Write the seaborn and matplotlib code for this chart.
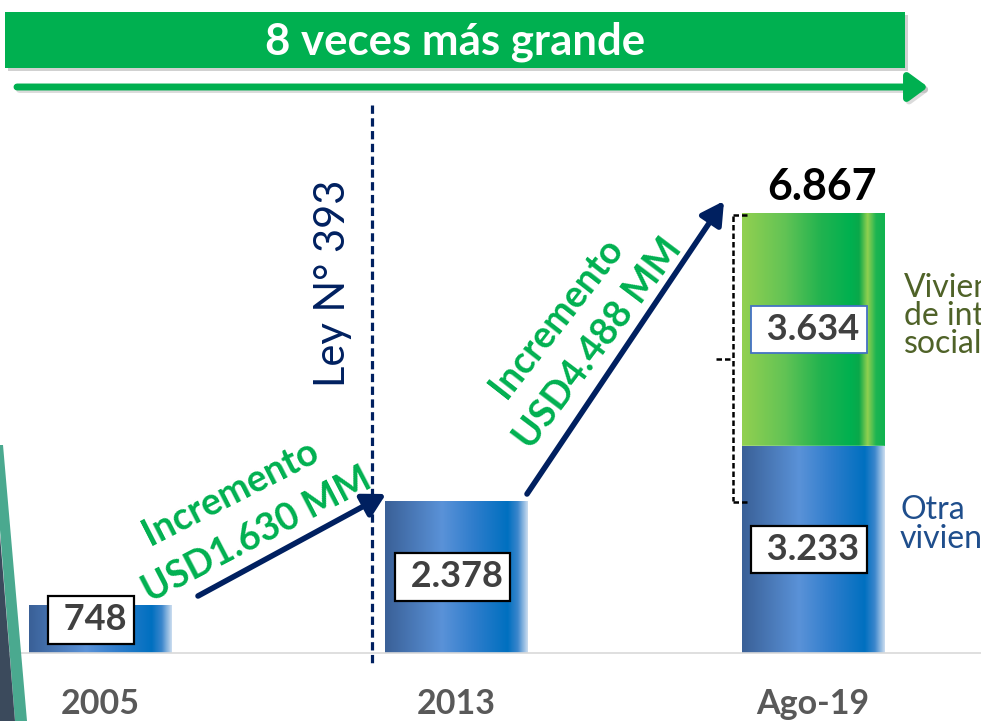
import numpy as np
import pandas as pd
import matplotlib
matplotlib.use("Agg")
import matplotlib.pyplot as plt
import seaborn as sns
from matplotlib.colors import LinearSegmentedColormap
from matplotlib.patches import Rectangle, FancyArrowPatch, Polygon
from matplotlib.lines import Line2D

# ---- data (millones de USD) ----
periods = ["2005", "2013", "Ago-19"]
otra_vivienda = [748, 2378, 3233]
vivienda_social = [0, 0, 3634]
increments = [1630, 4488]
headline = "8 veces más grande"
law_label = "Ley N° 393"
social_label = ["Vivienda", "de interés", "social"]
otra_label = ["Otra", "vivienda"]

totals = [a + b for a, b in zip(otra_vivienda, vivienda_social)]


def fmt(v):
    return f"{v:,}".replace(",", ".")


# ---- style ----
sns.set_theme(style="white")
plt.rcParams["font.family"] = ["Lato", "DejaVu Sans"]

W, H = 981, 721
fig = plt.figure(figsize=(W / 100, H / 100), dpi=100)
fig.patch.set_facecolor("white")


def P(x, y):
    """pixel position (from top-left) -> figure fraction"""
    return (x / W, 1 - y / H)


BASE = 653  # pixel row of the category axis
ax = fig.add_axes([0, (H - BASE) / H, 1, BASE / H])

GREEN = "#00b050"
BLUE = "#2e75b6"
NAVY = "#002060"

df = pd.DataFrame({"periodo": periods, "total": totals, "otra": otra_vivienda})

n0 = len(ax.patches)
sns.barplot(data=df, x="periodo", y="total", color=GREEN, width=0.4,
            saturation=1, ax=ax)
green_bars = ax.patches[n0:]
n1 = len(ax.patches)
sns.barplot(data=df, x="periodo", y="otra", color=BLUE, width=0.4,
            saturation=1, ax=ax)
blue_bars = ax.patches[n1:]

blue_cmap = LinearSegmentedColormap.from_list("barblue", [
    (0.00, "#3a6097"), (0.40, "#5a92d8"), (0.62, "#2f7dcc"),
    (0.86, "#0070c0"), (0.93, "#3b86cc"), (1.00, "#c9dcef")])
green_cmap = LinearSegmentedColormap.from_list("bargreen", [
    (0.00, "#92d050"), (0.30, "#62c355"), (0.55, "#22b34f"),
    (0.76, "#00b050"), (0.82, "#0aa84a"), (0.88, "#92d050"),
    (0.94, "#1cb452"), (1.00, "#0fb34f")])

grad = np.linspace(0, 1, 256).reshape(1, -1)


def fill_gradient(patch, cmap, z):
    patch.set_zorder(z)
    x0, y0 = patch.get_x(), patch.get_y()
    w, h = patch.get_width(), patch.get_height()
    if h <= 0:
        return
    im = ax.imshow(grad, cmap=cmap, extent=[x0, x0 + w, y0, y0 + h],
                   aspect="auto", zorder=z + 0.05, interpolation="bilinear")
    im.set_clip_path(patch)


for p in green_bars:
    fill_gradient(p, green_cmap, 1.0)
for p in blue_bars:
    fill_gradient(p, blue_cmap, 1.2)

ax.set_xlim(-0.2805, 2.471)
ax.set_ylim(0, 10190)
ax.set_xlabel("")
ax.set_ylabel("")
ax.set_yticks([])
for s in ["top", "right", "left"]:
    ax.spines[s].set_visible(False)
ax.spines["bottom"].set_color("#d9d9d9")
ax.spines["bottom"].set_linewidth(1.2)
ax.tick_params(axis="x", length=0, pad=25, labelsize=24.5, labelcolor="#595959")
for lbl in ax.get_xticklabels():
    lbl.set_fontweight("bold")

# ---- value boxes ----
LABEL_FLOOR = 515
VAL_FS = 26
for i, (o, s) in enumerate(zip(otra_vivienda, vivienda_social)):
    y = max(o / 2, LABEL_FLOOR)
    dx = -0.025 if o < LABEL_FLOOR * 2 else -0.012
    ax.text(i + dx, y, " " + fmt(o), ha="center", va="center", fontsize=VAL_FS,
            fontweight="bold", color="#404040", zorder=5,
            bbox=dict(boxstyle="square,pad=0.2", fc="white", ec="black", lw=1.6))
    if s > 0:
        ax.text(i + dx, o + s / 2, " " + fmt(s), ha="center", va="center",
                fontsize=VAL_FS, fontweight="bold", color="#404040", zorder=5,
                bbox=dict(boxstyle="square,pad=0.2", fc="white", ec="#4472c4", lw=1.3))

ax.annotate(fmt(totals[-1]), xy=(2, totals[-1]), xytext=(6.5, 9.5),
            textcoords="offset points", ha="center", va="baseline",
            fontsize=31, fontweight="bold", color="black", zorder=5)

# ---- header banner with arrow ----
fig.add_artist(Rectangle(P(8, 71), 900 / W, 56 / H, transform=fig.transFigure,
                         fc="#9a9a9a", ec="none", alpha=0.45, zorder=2))
fig.add_artist(Rectangle(P(5, 68), 900 / W, 56 / H, transform=fig.transFigure,
                         fc=GREEN, ec="none", zorder=3))
fig.text(*P(455, 42), headline, ha="center", va="center", fontsize=31.5,
         fontweight="bold", color="white", zorder=4)

for off, col, al in [(2.5, "#9a9a9a", 0.35), (0, GREEN, 1.0)]:
    fig.add_artist(FancyArrowPatch(P(17 + off, 87 + off), P(928 + off, 87 + off),
                                   transform=fig.transFigure,
                                   arrowstyle="-|>,head_length=0.75,head_width=0.55",
                                   mutation_scale=15, lw=5, color=col, alpha=al,
                                   shrinkA=0, shrinkB=0, zorder=3))

# ---- law marker ----
fig.add_artist(Line2D([372 / W, 372 / W], [1 - 105 / H, 1 - 665 / H],
                      transform=fig.transFigure, color=NAVY, lw=2.3,
                      linestyle=(0, (2.6, 1.4)), zorder=6))
fig.text(*P(333, 283), law_label, rotation=90, ha="center", va="center",
         fontsize=30, color=NAVY, zorder=6)

# ---- growth arrows and notes ----
for (a, b) in [((198, 596), (386, 494)), ((527, 494), (724, 201))]:
    fig.add_artist(FancyArrowPatch(P(*a), P(*b), transform=fig.transFigure,
                                   arrowstyle="-|>,head_length=0.9,head_width=0.5",
                                   mutation_scale=15, lw=4, color=NAVY,
                                   shrinkA=0, shrinkB=0, zorder=7))

INC_FS = 27
fig.text(*P(231, 493), "Incremento", rotation=27, rotation_mode="anchor",
         ha="center", va="center", fontsize=INC_FS, fontweight="bold", color=GREEN, zorder=7)
fig.text(*P(257, 535), f"USD{fmt(increments[0])} MM", rotation=27.5,
         rotation_mode="anchor", ha="center", va="center", fontsize=INC_FS,
         fontweight="bold", color=GREEN, zorder=7)
fig.text(*P(556, 318), "Incremento", rotation=52, rotation_mode="anchor",
         ha="center", va="center", fontsize=INC_FS, fontweight="bold", color=GREEN, zorder=7)
fig.text(*P(598, 343), f"USD{fmt(increments[1])} MM", rotation=53,
         rotation_mode="anchor", ha="center", va="center", fontsize=INC_FS,
         fontweight="bold", color=GREEN, zorder=7)

# ---- bracket beside the stacked bar ----
br = dict(transform=fig.transFigure, color="black", lw=1.8,
          linestyle=(0, (2.2, 1.2)), zorder=6)
fig.add_artist(Line2D([733 / W, 733 / W], [1 - 216 / H, 1 - 501 / H], **br))
fig.add_artist(Line2D([733 / W, 749 / W], [1 - 215 / H, 1 - 215 / H], **br))
fig.add_artist(Line2D([733 / W, 750 / W], [1 - 502 / H, 1 - 502 / H], **br))
fig.add_artist(Line2D([716 / W, 733 / W], [1 - 359 / H, 1 - 359 / H], **br))

# ---- series labels on the right (one baseline per line) ----
SIDE_FS = 23
for k, line in enumerate(social_label):
    fig.text(*P(904, 297 + 28 * k), line, ha="left", va="baseline",
             fontsize=SIDE_FS, color="#4f6228", zorder=6)
for k, line in enumerate(otra_label):
    fig.text(*P(900, 519 + 29 * k), line, ha="left", va="baseline",
             fontsize=SIDE_FS, color="#1f4e8c", zorder=6)

# ---- corner decoration ----
fig.add_artist(Polygon([P(0, 445), P(3, 445), P(27, 721), P(15, 721), P(0, 530)],
                       closed=True, transform=fig.transFigure, fc="#4aa98f",
                       ec="none", zorder=8))
fig.add_artist(Polygon([P(0, 535), P(15, 721), P(0, 721)], closed=True,
                       transform=fig.transFigure, fc="#3b4a5c", ec="none", zorder=8))

fig.savefig("out.png", dpi=100)
